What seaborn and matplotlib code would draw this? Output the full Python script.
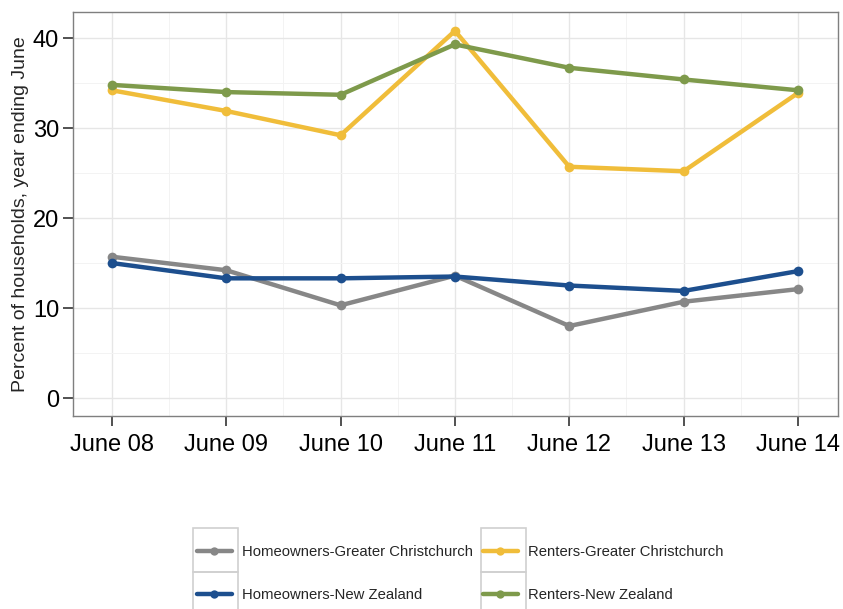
import matplotlib
matplotlib.use("Agg")
import matplotlib.pyplot as plt
import matplotlib.patches as mpatches
from matplotlib.lines import Line2D
import seaborn as sns
import pandas as pd
import numpy as np

periods = ["June 08", "June 09", "June 10", "June 11", "June 12", "June 13", "June 14"]
homeowners_gc = [15.7, 14.2, 10.3, 13.6, 8.0, 10.7, 12.1]
renters_gc = [34.2, 31.9, 29.2, 40.8, 25.7, 25.2, 33.9]
homeowners_nz = [15.0, 13.3, 13.3, 13.5, 12.5, 11.9, 14.1]
renters_nz = [34.8, 34.0, 33.7, 39.3, 36.7, 35.4, 34.2]
series_names = ["Homeowners-Greater Christchurch", "Renters-Greater Christchurch",
                "Homeowners-New Zealand", "Renters-New Zealand"]
colors = ["#878787", "#F0BD3A", "#1D4F8E", "#7E9A4B"]

rows = []
for name, vals in zip(series_names, [homeowners_gc, renters_gc, homeowners_nz, renters_nz]):
    for i, (p, v) in enumerate(zip(periods, vals)):
        rows.append({"period": p, "x": i, "value": v, "series": name})
df = pd.DataFrame(rows)

sns.set_style("whitegrid")
plt.rcParams["font.family"] = ["Liberation Sans", "DejaVu Sans"]

fig = plt.figure(figsize=(8.43, 6.09), dpi=100)
ax = fig.add_axes([73/843, 1-416/609, (838-73)/843, (416-12)/609])

sns.lineplot(data=df, x="x", y="value", hue="series", hue_order=series_names,
             palette=dict(zip(series_names, colors)), marker="o", markersize=7,
             markeredgewidth=0, linewidth=3.2, ax=ax, legend=False)

ax.set_xlim(-0.34, 6.35)
ax.set_ylim(-2.0, 42.9)
ax.set_xticks(range(len(periods)))
ax.set_xticklabels(periods)
ax.set_yticks([0, 10, 20, 30, 40])
ax.set_yticks([5, 15, 25, 35], minor=True)
ax.set_xticks(np.arange(0.5, 6.5, 1.0), minor=True)
ax.grid(True, which="major", color="#E6E6E6", linewidth=1.0)
ax.grid(True, which="minor", color="#F3F3F3", linewidth=0.7)
ax.set_xlabel("")
ax.set_ylabel("Percent of households, year ending June", fontsize=14, labelpad=3)
ax.tick_params(axis="both", which="major", labelsize=17, length=7, width=1.2,
               color="#333333", left=True, bottom=True, labelcolor="black")
ax.tick_params(axis="both", which="minor", length=0)
ax.tick_params(axis="x", pad=6)
ax.tick_params(axis="y", pad=3)
for s in ax.spines.values():
    s.set_color("#7F7F7F")
    s.set_linewidth(1.0)

# Legend (column-major order so rows read: GC pair, NZ pair)
order = [0, 2, 1, 3]
handles = [Line2D([0], [0], color=colors[i], lw=3.2, marker="o", markersize=6, markeredgewidth=0)
           for i in order]
labels = [series_names[i] for i in order]
leg = fig.legend(handles, labels, loc="upper left", bbox_to_anchor=(197/843, 1-545/609),
                 ncol=2, frameon=False, fontsize=10.7, handlelength=2.35, handletextpad=0.67,
                 columnspacing=0.67, labelspacing=1.98, borderpad=0, borderaxespad=0)

# legend key boxes
for x0 in [193, 481]:
    for y0 in [528, 572]:
        fig.add_artist(mpatches.Rectangle((x0/843, 1-(y0+44)/609), 45/843, 44/609,
                                          transform=fig.transFigure, fill=False,
                                          edgecolor="#D0D0D0", linewidth=1.2))

fig.savefig("out.png", dpi=100)
